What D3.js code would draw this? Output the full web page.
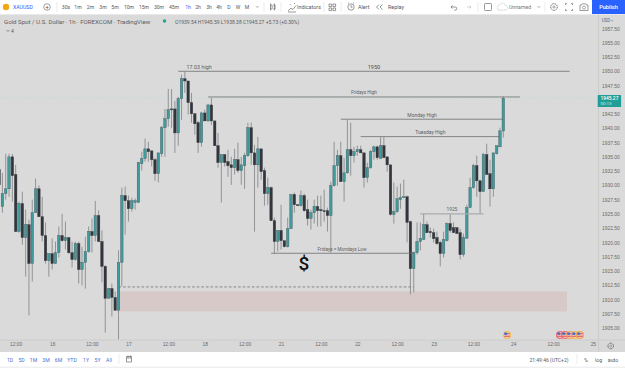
<!DOCTYPE html>
<html>
<head>
<meta charset="utf-8">
<script src="https://cdn.jsdelivr.net/npm/d3@7/dist/d3.min.js"></script>
<style>
html,body{margin:0;padding:0;background:#fff;overflow:hidden}
svg{display:block;font-family:Roboto,"Liberation Sans",sans-serif}
</style>
</head>
<body>
<svg id="chart" width="625" height="368"></svg>
<script>
// XAUUSD hourly session candles, oldest first
const opens = [
1932.75,1926.3,1928.55,1929.4,1935,1931.9,1921.9,1926.8,1920.85,1923.1,
1916.3,1925.2,1929.4,1924.5,1921.2,1916.8,1918.05,1916.3,1918.2,1921.2,
1920.3,1920.85,1918.2,1917,1919.8,1915.25,1916.5,1918.4,1921.9,1921.2,
1924.7,1920.15,1915.8,1910.2,1911.9,1910.35,1908.1,1916.5,1928.2,1927.3,
1925.9,1927,1927,1933.8,1934.7,1936.4,1936.05,1934.5,1932.05,1935.55,
1940.1,1941.7,1943.4,1943.4,1939.2,1945.2,1948.7,1948.3,1944.5,1942.55,
1941,1937.5,1942.7,1941.3,1944.1,1941.3,1936.95,1934,1935.4,1934.15,
1933.6,1933.1,1934.5,1932.6,1933.45,1935.2,1940.1,1935.7,1933.6,1936.4,
1932.6,1928.55,1929.6,1923.8,1920.15,1922.1,1920.3,1919.25,1922.4,1928.4,
1926.6,1926.45,1928.2,1925.75,1924.2,1925.2,1926.3,1925.75,1925.55,1925.55,
1924.7,1929.95,1933.45,1935.2,1930.65,1932.2,1936.25,1935.2,1935.9,1936.25,
1935.7,1931.35,1933.1,1935.9,1936.75,1934.7,1936.95,1935,1933.6,1924.9,
1925.4,1927.5,1927.85,1928,1923.65,1915.4,1918.2,1920.15,1920.5,1923.1,
1921.9,1921.7,1920.85,1920,1918.05,1920.3,1923.3,1922.6,1922.6,1921.7,
1917.85,1920.7,1926.1,1929.6,1933.45,1930.8,1928.9,1935.4,1932.05,1929.4,
1935.55,1936.75,1939.54];
const highs = [
1936.4,1932.2,1935.55,1935.55,1935.5,1933.6,1927.15,1928.9,1925.75,1924,
1927.5,1931.2,1930,1928,1923.5,1918.05,1920.7,1920.15,1922.8,1925,
1923.65,1920.85,1920.15,1920.15,1920.15,1919.25,1921,1922.8,1924.2,1927.3,
1925.6,1922.1,1916,1911.9,1912.8,1911.4,1918.6,1929.6,1929.8,1928.2,
1927.85,1927.7,1934.15,1935.9,1938.2,1937.65,1936.05,1934.85,1935.7,1940.45,
1943.4,1946.9,1946.9,1944.8,1945.5,1949.4,1949.9,1948.3,1946.2,1942.55,
1941.3,1942.9,1943.25,1944.3,1945.35,1941.3,1939.2,1935.4,1935.4,1936.25,
1935,1936.4,1937.5,1935,1935.7,1941,1941,1937.1,1938.5,1936.4,
1933.1,1931.35,1929.8,1924.35,1922.1,1926.6,1920.3,1924.35,1928.4,1928.75,
1926.6,1929.1,1928.55,1927.5,1925.75,1927.5,1928.2,1928.2,1929.25,1926.1,
1930.65,1937.65,1936.25,1937.65,1934.85,1941.5,1941,1936.75,1936.95,1936.95,
1935.7,1934,1936.25,1936.95,1936.95,1938.5,1938.5,1935,1933.6,1930.5,
1929.8,1930.3,1931,1928.2,1923.8,1918.4,1923.5,1923.5,1925,1923.65,
1922.6,1922.4,1921.9,1920.3,1921.9,1923.5,1925,1923.5,1922.6,1922.4,
1921.55,1926.6,1931.35,1933.8,1935.2,1931,1935.7,1937.3,1934.5,1935.7,
1936.95,1940.1,1945.59];
const lows = [
1929.25,1925.2,1927.5,1928,1927.15,1921.9,1921.7,1919.6,1914,1907.2,
1913.15,1925.2,1924.5,1920.15,1916.3,1914,1915.25,1916.3,1917.35,1920.15,
1918.75,1918,1915.6,1916.8,1912.8,1912.45,1911.9,1918.2,1918.2,1920.15,
1920.15,1913,1904.2,1910.2,1907,1908.1,1903,1912.3,1921.4,1923.65,
1925.4,1925.75,1927,1932.6,1934.15,1934.15,1933.3,1930.8,1930.5,1935,
1935,1940.3,1940.1,1935.7,1936.95,1941.5,1946.2,1942.4,1941,1938.9,
1935.7,1936.8,1941.3,1941.15,1940.6,1936.95,1933.1,1927,1933.3,1931.5,
1930.1,1931.9,1932.2,1930.1,1929.4,1935,1933.6,1921.9,1929.6,1931,
1926.45,1926.6,1923.8,1918.05,1918.4,1918.75,1919.1,1919.1,1922.4,1925.2,
1926.45,1926.3,1925.4,1922.95,1922.25,1923.3,1922.8,1922.8,1923.65,1921.9,
1918.2,1929.8,1929.95,1930.65,1927.15,1932.05,1931.7,1934,1935.2,1935.7,
1929.6,1930.5,1932.9,1934.5,1934.5,1934.7,1934.85,1932.4,1924.7,1923.3,
1925.2,1925.9,1927.85,1920,1910.9,1911.25,1917.85,1918.6,1920.5,1921.7,
1920.85,1920,1919.6,1915.8,1917.35,1920.15,1921.7,1921.7,1921.55,1917,
1917.5,1920.7,1926.1,1929.4,1928,1925,1928.9,1931.9,1926.3,1928,
1935.4,1936.75,1938.38];
const closes = [
1930.1,1928.55,1929.4,1935,1931.7,1921.9,1926.8,1920.85,1923.1,1916.3,
1925.2,1929.4,1924.5,1921.2,1916.8,1918.05,1916.3,1918.2,1921.2,1920.3,
1920.85,1918.2,1917,1919.8,1915.25,1916.5,1918.4,1921.9,1921.2,1924.7,
1920.15,1915.8,1910.2,1911.9,1910.35,1908.1,1916.5,1928.2,1927.3,1925.9,
1927.3,1927.3,1934,1934.7,1936.4,1935.9,1934.5,1932.05,1935.7,1940.1,
1941.7,1943.25,1943.25,1939.2,1945.2,1948.7,1948.3,1944.5,1942.55,1940.8,
1937.5,1942.7,1941.3,1944.1,1941.3,1936.95,1934,1935.4,1934,1933.45,
1933.1,1934.5,1932.6,1933.6,1935.2,1940.1,1935.7,1933.6,1936.4,1932.4,
1928.55,1929.6,1923.8,1920.15,1922.1,1920.3,1919.25,1922.4,1928.4,1926.6,
1926.45,1928.2,1925.55,1924.2,1925.2,1926.3,1925.55,1925.55,1925.4,1924.7,
1929.95,1933.45,1935.2,1930.65,1932.2,1936.25,1935.2,1935.9,1936.25,1935.7,
1931.35,1933.1,1935.9,1936.75,1934.85,1936.95,1934.85,1933.6,1924.9,1925.4,
1927.65,1927.85,1928,1923.5,1915.4,1918.2,1920.15,1920.7,1923.1,1921.7,
1921.7,1920.65,1919.8,1918.05,1920.5,1923.3,1922.1,1921.7,1921.55,1917.85,
1920.85,1926.1,1929.6,1933.45,1930.8,1928.9,1935.4,1931.9,1929.4,1935.7,
1936.95,1939.55,1945.27];

// Time axis: bar number of each labelled tick, and its caption
const timeTickBars = [5,16,28,39,51,62,74,85,97,108,120,131,143,155,167,179];
const timeTickLabels = ["12:00","16","12:00","17","12:00","18","12:00","21","12:00","22","12:00","23","12:00","24","12:00","25"];

// Price axis ticks
const priceTicks = [1957.5,1955,1952.5,1950,1947.5,1942.5,1940,1937.5,1935,1932.5,1930,1927.5,1925,1922.5,1920,1917.5,1915,1912.5,1910,1907.5,1905];
const lastPrice = 1945.27;

// Horizontal levels marked on the chart: from bar, to bar, price
const levelNames = ["17.03 high","Fridays High","Monday High","Tuesday High","Fridays = Mondays Low","1925"];
const levelPrices = [1950,1945.5,1941.6,1938.55,1918.1,1925];
const levelFrom = [54,63,103,109,82,127];
const levelTo = [172,157,152,151,125,146];
const levelLabelBars = [60.3,110,127.5,130,103.4,136.5];
const levelLabelSizes = [5.4,4.7,5,5,4.7,4.8];

const zoneTop = 1911.4, zoneBottom = 1907.9, zoneFrom = 36, zoneTo = 171.2;
const sweepPrice = 1912.2, sweepFrom = 36, sweepTo = 125;

const presetRanges = ["1D","5D","1M","3M","6M","YTD","1Y","5Y","All"];
const intervals = ["30s","1m","2m","3m","5m","10m","15m","30m","45m","1h","2h","3h","4h","D","W","M"];

const W = 625, H = 368;
const plotRight = 598.5, plotTop = 14.5, plotBottom = 340, axisBottom = 352;
const grey = "#dadada", teal = "#3d9c9e", dark = "#32363c", wick = "#7f8183", ink = "#55585c";

const svg = d3.select("#chart");
const x = d3.scaleLinear().domain([0, opens.length - 1]).range([-0.9, 503.3]);
const y = d3.scaleLinear().domain([1957.5, 1905]).range([28.5, 328]);

function label(parent, px, py, str, opt = {}) {
  return parent.append("text").attr("x", px).attr("y", py).text(str)
    .attr("font-size", opt.size || 5.2).attr("fill", opt.fill || ink)
    .attr("text-anchor", opt.anchor || "middle").attr("dominant-baseline", "central")
    .attr("font-weight", opt.weight || 400);
}

// Panels
svg.append("rect").attr("width", W).attr("height", H).attr("fill", "#f0f0f2");
svg.append("rect").attr("width", W).attr("height", plotTop).attr("fill", "#ffffff");
svg.append("rect").attr("y", plotTop).attr("width", W).attr("height", axisBottom - plotTop).attr("fill", grey);
svg.append("rect").attr("y", axisBottom).attr("width", W).attr("height", 14.5).attr("fill", "#ffffff");
svg.append("rect").attr("y", plotBottom).attr("width", W).attr("height", axisBottom - plotBottom).attr("fill", "#d8d8d8");

// Supply zone and dashed sweep line
svg.append("rect")
  .attr("x", x(zoneFrom)).attr("y", y(zoneTop))
  .attr("width", x(zoneTo) - x(zoneFrom)).attr("height", y(zoneBottom) - y(zoneTop))
  .attr("fill", "#d8c9c9");
svg.append("line")
  .attr("x1", x(sweepFrom)).attr("x2", x(sweepTo)).attr("y1", y(sweepPrice)).attr("y2", y(sweepPrice))
  .attr("stroke", "#6f7173").attr("stroke-width", 0.8).attr("stroke-dasharray", "2.6 2");

// Last price guide
svg.append("line")
  .attr("x1", 0).attr("x2", plotRight).attr("y1", y(lastPrice)).attr("y2", y(lastPrice))
  .attr("stroke", "#c3dcdd").attr("stroke-width", 0.8).attr("stroke-dasharray", "2 1");

// Candles
const candle = svg.append("g").selectAll("g")
  .data(opens.map((o, i) => ({ i, o, h: highs[i], l: lows[i], c: closes[i] })))
  .join("g");
candle.append("line")
  .attr("x1", d => x(d.i)).attr("x2", d => x(d.i))
  .attr("y1", d => y(d.h)).attr("y2", d => y(d.l))
  .attr("stroke", wick).attr("stroke-width", 0.8);
candle.append("rect")
  .attr("x", d => x(d.i) - 1.25).attr("width", 2.5)
  .attr("y", d => y(Math.max(d.o, d.c)))
  .attr("height", d => Math.max(0.9, Math.abs(y(d.o) - y(d.c))))
  .attr("fill", d => d.c >= d.o ? teal : dark)
  .attr("stroke", d => d.c >= d.o ? "#46565a" : dark).attr("stroke-width", 0.4);

// Marked levels
levelNames.forEach((name, k) => {
  const isBand = name === "1925";
  svg.append("line")
    .attr("x1", x(levelFrom[k])).attr("x2", x(levelTo[k]))
    .attr("y1", y(levelPrices[k])).attr("y2", y(levelPrices[k]))
    .attr("stroke", isBand ? "#a9abad" : "#6c6e70").attr("stroke-width", isBand ? 1.3 : 0.8);
  label(svg, x(levelLabelBars[k]), y(levelPrices[k]) - 4.2, name, { size: levelLabelSizes[k], fill: "#5a5c60" });
});
label(svg, x(113), y(1950) - 4.6, "1950", { size: 5.6, fill: "#4d4f52" });
label(svg, x(91.9), y(1916.25), "$", { size: 19, fill: "#111", weight: 500 });

// Price axis
svg.append("g").attr("transform", `translate(${plotRight},0)`)
  .call(d3.axisRight(y).tickValues(priceTicks).tickSize(0).tickPadding(3.5).tickFormat(d => d.toFixed(2)))
  .call(g => g.select(".domain").remove())
  .call(g => g.selectAll("text").attr("font-size", 4.9).attr("fill", "#66696d").attr("font-family", "inherit"));
svg.append("line").attr("x1", plotRight).attr("x2", plotRight).attr("y1", plotTop).attr("y2", axisBottom)
  .attr("stroke", "#c6c6c6").attr("stroke-width", 0.8);
label(svg, 606, 20.5, "USD", { size: 4.6, fill: "#66696d" });
svg.append("path").attr("d", "M611 20l1.2 1.2 1.2-1.2").attr("fill", "none").attr("stroke", "#66696d").attr("stroke-width", 0.5);

// Last price tag
const tagY = y(lastPrice);
svg.append("rect").attr("x", 597.7).attr("y", tagY - 3.2).attr("width", 23.4).attr("height", 12)
  .attr("fill", "#1f9e98").attr("rx", 0.6);
label(svg, 609.4, tagY - 0.2, lastPrice.toFixed(2), { size: 4.9, fill: "#ffffff", weight: 500 });
label(svg, 606, tagY + 5.2, "00:13", { size: 4.4, fill: "#cfeeec" });

// Time axis
svg.append("g").attr("transform", `translate(0,${plotBottom})`)
  .call(d3.axisBottom(x).tickValues(timeTickBars).tickSize(0).tickPadding(3)
    .tickFormat((d, i) => timeTickLabels[i]))
  .call(g => g.select(".domain").attr("stroke", "#c8c8c8").attr("stroke-width", 0.6).attr("d", `M0,0H${W}`))
  .call(g => g.selectAll("text").attr("font-size", 4.9).attr("fill", "#66696d").attr("font-family", "inherit"));

// Calendar event markers along the time axis
const flag = (cx, ring) => {
  const g = svg.append("g");
  g.append("circle").attr("cx", cx).attr("cy", 335).attr("r", 4).attr("fill", ring);
  g.append("circle").attr("cx", cx).attr("cy", 335).attr("r", 2.8).attr("fill", "#f3f3f3");
  [-1.6, 0, 1.6].forEach(dy => g.append("rect").attr("x", cx - 2.8).attr("y", 335 + dy - 0.45).attr("width", 5.6).attr("height", 0.9).attr("fill", "#e0575a"));
  g.append("rect").attr("x", cx - 2.7).attr("y", 332.5).attr("width", 2.8).attr("height", 2.3).attr("fill", "#3f6fc4");
};
flag(507, "#f2c14e");
[["#ee6a74", 560], ["#ee6a74", 565], ["#f2a35a", 570], ["#f2b04e", 575], ["#f2a84e", 580]].forEach(([c, px]) => flag(px, c));

// Header legend
label(svg, 4, 21.3, "Gold Spot / U.S. Dollar · 1h · FOREXCOM · TradingView", { size: 6.1, anchor: "start", fill: "#5a5c60" });
svg.append("circle").attr("cx", 164.5).attr("cy", 21).attr("r", 1.7).attr("fill", "#1aa58e");
label(svg, 175, 21.5, "O1939.54 H1945.59 L1938.38 C1945.27 +5.73 (+0.30%)", { size: 5, anchor: "start", fill: "#5a5c60" });
svg.append("path").attr("d", "M6.5 30l1.5 1.5 1.5-1.5").attr("fill", "none").attr("stroke", ink).attr("stroke-width", 0.6);
label(svg, 12.5, 30.8, "4", { size: 5 });

// Top toolbar
svg.append("circle").attr("cx", 6).attr("cy", 7).attr("r", 3.2).attr("fill", "#f3a712");
label(svg, 13, 7, "XAUUSD", { size: 5.2, anchor: "start", fill: "#2962ff" });
svg.append("circle").attr("cx", 47).attr("cy", 7).attr("r", 3.3).attr("fill", "none").attr("stroke", "#666").attr("stroke-width", 0.6);
label(svg, 47, 7, "+", { size: 5.5, fill: "#444" });
const intervalXs = [66,78,90.5,103,115,129,144,159,174,188,198,209,219,229,238,247];
intervals.forEach((t, i) => label(svg, intervalXs[i], 7, t, { size: 5.1, fill: t === "1h" ? "#2962ff" : ink }));
const divider = (px, y1, y2) => svg.append("line").attr("x1", px).attr("x2", px).attr("y1", y1).attr("y2", y2).attr("stroke", "#e4e4e6").attr("stroke-width", 0.7);
[57,264,281,324,341,478,545].forEach(px => divider(px, 2, 12));
svg.append("path").attr("d", "M256 6.2l1.3 1.3 1.3-1.3").attr("fill", "none").attr("stroke", ink).attr("stroke-width", 0.5);
const icon = (d, w = 0.6) => svg.append("path").attr("d", d).attr("fill", "none").attr("stroke", "#555").attr("stroke-width", w);
icon("M270.5 3.5v7M270.5 5h1.6v4h-1.6M274.3 3.5v7M273.6 5h1.5v4h-1.5");
icon("M288 11l3-3 2 1.5 3-4M288 12h8M290 4.2l1 1M294 3l1 1");
label(svg, 297, 7, "Indicators", { size: 5.4, anchor: "start" });
icon("M329 4h2.6v2.6H329zM333 4h2.6v2.6H333zM329 8h2.6v2.6H329zM333 8h2.6v2.6H333z");
svg.append("circle").attr("cx", 351).attr("cy", 7).attr("r", 3.2).attr("fill", "none").attr("stroke", "#555").attr("stroke-width", 0.6);
icon("M351 5v2.2h1.6M348 3.4l1 -.8M354 3.4l-1-.8");
label(svg, 358, 7, "Alert", { size: 5.4, anchor: "start" });
icon("M379 4.5L376.5 7l2.5 2.5M382.5 4.5L380 7l2.5 2.5");
label(svg, 388, 7, "Replay", { size: 5.4, anchor: "start" });
icon("M451 7h4.2a1.6 1.6 0 010 3.2h-1M452.5 5.4L451 7l1.5 1.6");
svg.append("path").attr("d", "M471 7h-4.2M469.5 5.4L471 7l-1.5 1.6").attr("fill", "none").attr("stroke", "#bbb").attr("stroke-width", 0.6);
svg.append("rect").attr("x", 484.5).attr("y", 3.5).attr("width", 7).attr("height", 7).attr("rx", 0.8).attr("fill", "none").attr("stroke", "#555").attr("stroke-width", 0.6);
svg.append("path").attr("d", "M499 10h6.5a2.2 2.2 0 000-4.4 3.1 3.1 0 00-6-.3 2.4 2.4 0 00-.5 4.7z").attr("fill", "none").attr("stroke", "#999").attr("stroke-width", 0.5).attr("stroke-dasharray", "1 .6");
label(svg, 509, 7, "Unnamed", { size: 5.2, anchor: "start", fill: "#777" });
svg.append("path").attr("d", "M537.5 6.2l1.3 1.3 1.3-1.3").attr("fill", "none").attr("stroke", ink).attr("stroke-width", 0.5);
svg.append("circle").attr("cx", 554).attr("cy", 7).attr("r", 3.3).attr("fill", "none").attr("stroke", "#555").attr("stroke-width", 0.9).attr("stroke-dasharray", "1.2 .6");
svg.append("circle").attr("cx", 554).attr("cy", 7).attr("r", 1.1).attr("fill", "none").attr("stroke", "#555").attr("stroke-width", 0.5);
icon("M565.5 5V3.5H567M571 3.5h1.5V5M572.5 9v1.5H571M567 10.5h-1.5V9");
icon("M580 5h1.6l.8-1.2h3.2l.8 1.2h1.6v5.5h-8z");
svg.append("circle").attr("cx", 584).attr("cy", 7.6).attr("r", 1.5).attr("fill", "none").attr("stroke", "#555").attr("stroke-width", 0.5);
svg.append("rect").attr("x", 592).attr("y", 0).attr("width", 33).attr("height", 14).attr("fill", "#2962ff");
label(svg, 608.5, 7, "Publish", { size: 5.6, fill: "#ffffff", weight: 500 });

// Bottom toolbar
const rangeXs = [10,21.5,33.5,46,58.5,72,86,97.5,109];
presetRanges.forEach((t, i) => label(svg, rangeXs[i], 359.5, t, { size: 5.1, fill: "#4a6fd0" }));
divider(119, 354, 364);
icon("M126.5 356.5h5v5.5h-5zM126.5 358h5M128 355.5v2M130.5 355.5v2", 0.6);
label(svg, 549, 359.8, "21:49:46 (UTC+2)", { size: 5 });
divider(577, 354, 364);
label(svg, 586, 359.8, "%", { size: 5.2 });
label(svg, 598.5, 359.8, "log", { size: 5.2 });
label(svg, 613, 359.8, "auto", { size: 5.2 });

// Axis settings gear
svg.append("circle").attr("cx", 610.7).attr("cy", 346).attr("r", 2.8).attr("fill", "none").attr("stroke", "#555").attr("stroke-width", 0.9).attr("stroke-dasharray", "1 .5");
svg.append("circle").attr("cx", 610.7).attr("cy", 346).attr("r", 1).attr("fill", "none").attr("stroke", "#555").attr("stroke-width", 0.4);
</script>
</body>
</html>
